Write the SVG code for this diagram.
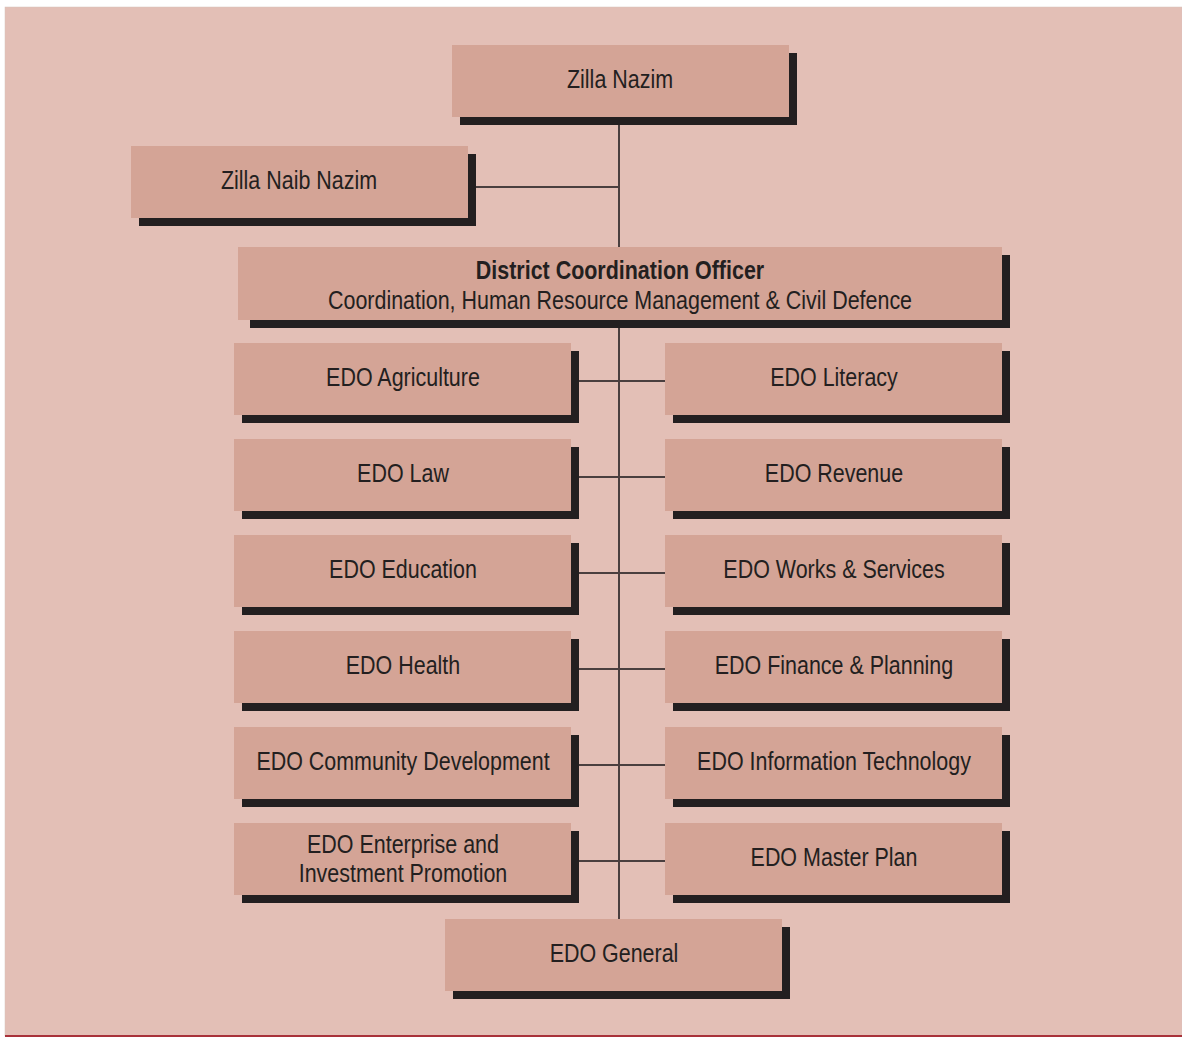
<svg xmlns="http://www.w3.org/2000/svg" width="1182" height="1037" viewBox="0 0 1182 1037">
<style>
.bg{fill:#e3bfb6}
.box{fill:#d4a496}
.sh{fill:#231f20}
.t{font-family:"Liberation Sans",Arial,sans-serif;font-size:26px;fill:#231f20;text-anchor:middle}
.b{font-weight:bold}
.ln{stroke:#4a3f3f;stroke-width:2;fill:none}
</style>
<rect x="0" y="0" width="1182" height="1037" fill="#ffffff"/>
<rect class="bg" x="5" y="7" width="1177" height="1029" stroke="#d6c2bc" stroke-width="0.5"/>
<line x1="5" y1="1036" x2="1182" y2="1036" stroke="#a8323a" stroke-width="2"/>
<g id="connectors">
<path class="ln" d="M619 125V919"/>
<path class="ln" d="M476 187H619"/>
<path class="ln" d="M579 381H665M579 477H665M579 573H665M579 669H665M579 765H665M579 861H665"/>
</g>
<g id="zilla-nazim"><rect class="sh" x="460" y="53" width="337" height="72"/><rect class="box" x="452" y="45" width="337" height="72"/><text class="t" transform="translate(620 88) scale(0.825 1)">Zilla Nazim</text></g>
<g id="zilla-naib-nazim"><rect class="sh" x="139" y="154" width="337" height="72"/><rect class="box" x="131" y="146" width="337" height="72"/><text class="t" transform="translate(299 189) scale(0.825 1)">Zilla Naib Nazim</text></g>
<g id="dco"><rect class="sh" x="250" y="255" width="760" height="73"/><rect class="box" x="238" y="247" width="764" height="73"/><text class="t b" transform="translate(620 279) scale(0.825 1)">District Coordination Officer</text><text class="t" transform="translate(620 309) scale(0.825 1)">Coordination, Human Resource Management &amp; Civil Defence</text></g>
<g id="edo-agriculture"><rect class="sh" x="242" y="351" width="337" height="72"/><rect class="box" x="234" y="343" width="337" height="72"/><text class="t" transform="translate(403 386) scale(0.825 1)">EDO Agriculture</text></g>
<g id="edo-literacy"><rect class="sh" x="673" y="351" width="337" height="72"/><rect class="box" x="665" y="343" width="337" height="72"/><text class="t" transform="translate(834 386) scale(0.825 1)">EDO Literacy</text></g>
<g id="edo-law"><rect class="sh" x="242" y="447" width="337" height="72"/><rect class="box" x="234" y="439" width="337" height="72"/><text class="t" transform="translate(403 482) scale(0.825 1)">EDO Law</text></g>
<g id="edo-revenue"><rect class="sh" x="673" y="447" width="337" height="72"/><rect class="box" x="665" y="439" width="337" height="72"/><text class="t" transform="translate(834 482) scale(0.825 1)">EDO Revenue</text></g>
<g id="edo-education"><rect class="sh" x="242" y="543" width="337" height="72"/><rect class="box" x="234" y="535" width="337" height="72"/><text class="t" transform="translate(403 578) scale(0.825 1)">EDO Education</text></g>
<g id="edo-works"><rect class="sh" x="673" y="543" width="337" height="72"/><rect class="box" x="665" y="535" width="337" height="72"/><text class="t" transform="translate(834 578) scale(0.825 1)">EDO Works &amp; Services</text></g>
<g id="edo-health"><rect class="sh" x="242" y="639" width="337" height="72"/><rect class="box" x="234" y="631" width="337" height="72"/><text class="t" transform="translate(403 674) scale(0.825 1)">EDO Health</text></g>
<g id="edo-finance"><rect class="sh" x="673" y="639" width="337" height="72"/><rect class="box" x="665" y="631" width="337" height="72"/><text class="t" transform="translate(834 674) scale(0.825 1)">EDO Finance &amp; Planning</text></g>
<g id="edo-community"><rect class="sh" x="242" y="735" width="337" height="72"/><rect class="box" x="234" y="727" width="337" height="72"/><text class="t" transform="translate(403 770) scale(0.825 1)">EDO Community Development</text></g>
<g id="edo-it"><rect class="sh" x="673" y="735" width="337" height="72"/><rect class="box" x="665" y="727" width="337" height="72"/><text class="t" transform="translate(834 770) scale(0.825 1)">EDO Information Technology</text></g>
<g id="edo-enterprise"><rect class="sh" x="242" y="831" width="337" height="72"/><rect class="box" x="234" y="823" width="337" height="72"/><text class="t" transform="translate(403 853) scale(0.825 1)">EDO Enterprise and</text><text class="t" transform="translate(403 882) scale(0.825 1)">Investment Promotion</text></g>
<g id="edo-master-plan"><rect class="sh" x="673" y="831" width="337" height="72"/><rect class="box" x="665" y="823" width="337" height="72"/><text class="t" transform="translate(834 866) scale(0.825 1)">EDO Master Plan</text></g>
<g id="edo-general"><rect class="sh" x="453" y="927" width="337" height="72"/><rect class="box" x="445" y="919" width="337" height="72"/><text class="t" transform="translate(614 962) scale(0.825 1)">EDO General</text></g>
</svg>
